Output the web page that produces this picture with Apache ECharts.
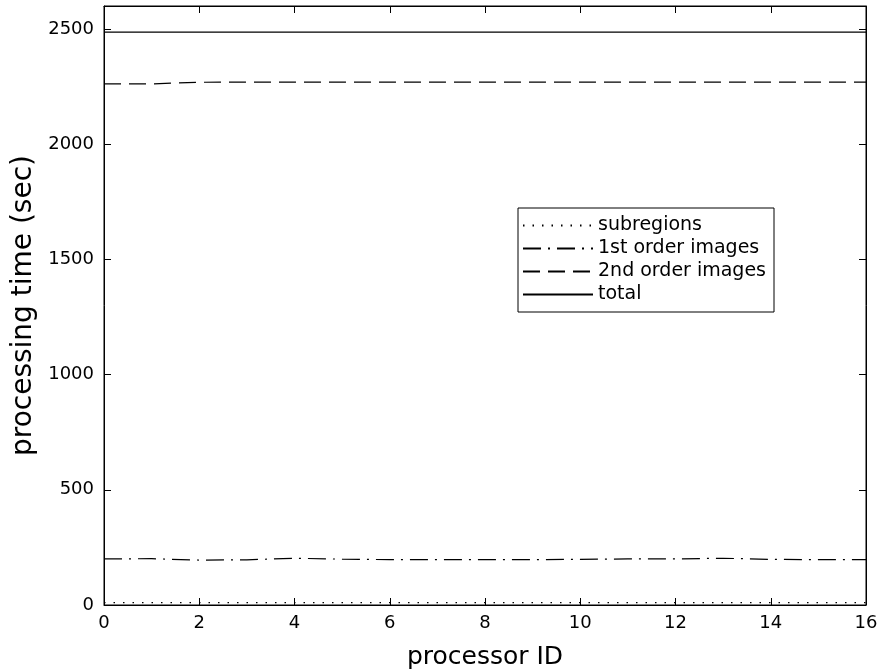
<!DOCTYPE html>
<html>
<head>
<meta charset="utf-8">
<style>
  html, body { margin: 0; padding: 0; background: #fff; }
  #chart { width: 884px; height: 671px; }
</style>
<script src="https://cdn.jsdelivr.net/npm/echarts@6/dist/echarts.min.js"></script>
</head>
<body>
<div id="chart"></div>
<script>
// Processing time per processor, in seconds
const processorIds = [0, 1, 2, 3, 4, 5, 6, 7, 8, 9, 10, 11, 12, 13, 14, 15, 16];
const subregions = [10, 10, 10, 10, 10, 10, 10, 10, 10, 10, 10, 10, 10, 10, 10, 10, 10];
const firstOrder = [200, 201, 195, 196, 203, 199, 197, 197, 197, 197, 198, 200, 200, 203, 198, 197, 197];
const secondOrder = [2262, 2262, 2269, 2270, 2270, 2270, 2270, 2270, 2270, 2270, 2270, 2270, 2270, 2270, 2270, 2270, 2270];
const total = [2487, 2487, 2487, 2487, 2487, 2487, 2487, 2487, 2487, 2487, 2487, 2487, 2487, 2487, 2487, 2487, 2487];
const seriesNames = ['subregions', '1st order images', '2nd order images', 'total'];

const FONT = '"DejaVu Sans", Verdana, sans-serif';

function pairs(values) {
  return processorIds.map((id, i) => [id, values[i]]);
}

function lineSeries(name, values, type) {
  return {
    name: name,
    type: 'line',
    data: pairs(values),
    showSymbol: false,
    symbol: 'none',
    silent: true,
    lineStyle: { color: '#000', width: 1.2, type: type },
    itemStyle: { color: '#000' }
  };
}

const chart = echarts.init(document.getElementById('chart'), null, { renderer: 'canvas' });

// Inward ticks on every side of the box
function ticks() {
  return { show: true, inside: true, length: 7, lineStyle: { color: '#000', width: 1 } };
}
function frameLine() {
  return { show: true, onZero: false, lineStyle: { color: '#000', width: 1 } };
}

chart.setOption({
  animation: false,
  backgroundColor: '#fff',
  grid: {
    left: 104, right: 18, top: 6, bottom: 66,
    containLabel: false,
    outerBoundsMode: 'none',
    show: true, borderColor: '#000', borderWidth: 1, backgroundColor: 'transparent'
  },
  xAxis: [{
    type: 'value', min: 0, max: 16, interval: 2, position: 'bottom',
    name: 'processor ID', nameLocation: 'middle', nameGap: 40,
    nameTextStyle: { fontFamily: FONT, fontSize: 25, color: '#000' },
    axisLine: frameLine(),
    axisTick: ticks(),
    axisLabel: { fontFamily: FONT, fontSize: 18, color: '#000', margin: 9 },
    splitLine: { show: false }
  }, {
    type: 'value', min: 0, max: 16, interval: 2, position: 'top',
    axisLine: frameLine(),
    axisTick: ticks(),
    axisLabel: { show: false },
    splitLine: { show: false }
  }],
  yAxis: [{
    type: 'value', min: 0, max: 2600, interval: 500, position: 'left',
    name: 'processing time (sec)', nameLocation: 'middle', nameGap: 64,
    nameTextStyle: { fontFamily: FONT, fontSize: 28, color: '#000' },
    axisLine: frameLine(),
    axisTick: ticks(),
    axisLabel: { fontFamily: FONT, fontSize: 18, color: '#000', margin: 10, showMaxLabel: false,
      formatter: v => (v % 500 === 0 ? String(v) : '') },
    splitLine: { show: false }
  }, {
    type: 'value', min: 0, max: 2600, interval: 500, position: 'right',
    axisLine: frameLine(),
    axisTick: ticks(),
    axisLabel: { show: false },
    splitLine: { show: false }
  }],
  legend: {
    show: true,
    orient: 'vertical',
    left: 518, top: 208,
    data: seriesNames,
    itemWidth: 70, itemHeight: 14, itemGap: 4,
    padding: [8, 8, 8, 4],
    borderColor: '#000', borderWidth: 1, borderRadius: 0,
    backgroundColor: '#fff',
    selectedMode: false,
    itemStyle: { opacity: 0 },
    textStyle: { fontFamily: FONT, fontSize: 19, color: '#000' }
  },
  series: [
    lineSeries(seriesNames[0], subregions, [1.5, 8]),
    lineSeries(seriesNames[1], firstOrder, [18, 7, 2, 7]),
    lineSeries(seriesNames[2], secondOrder, [17, 8]),
    lineSeries(seriesNames[3], total, 'solid')
  ]
});
</script>
</body>
</html>
